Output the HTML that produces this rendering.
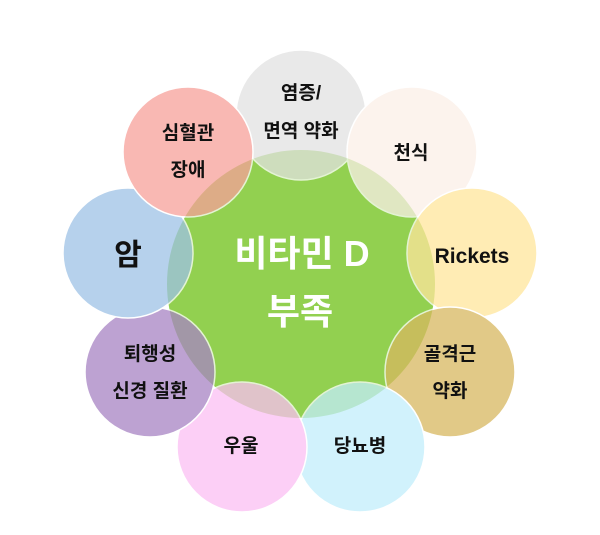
<!DOCTYPE html>
<html><head><meta charset="utf-8"><style>
body{margin:0;background:#fff;}
svg text{font-family:"Liberation Sans","Noto Sans CJK KR","NanumGothic",sans-serif;font-weight:bold;}
</style></head><body>
<svg width="600" height="530" xmlns="http://www.w3.org/2000/svg">
<rect width="600" height="530" fill="#fff"/>
<circle cx="301" cy="284" r="134" fill="#92d050"/>
<g stroke="#fff" stroke-width="1.5" opacity="0.75">
<circle cx="301" cy="115" r="65" fill="#e2e2e2"/>
<circle cx="412" cy="152" r="65" fill="#fbefe8"/>
<circle cx="472" cy="253" r="65" fill="#ffe69c"/>
<circle cx="450" cy="372" r="65" fill="#d8b860"/>
<circle cx="360" cy="447" r="65" fill="#c2eefb"/>
<circle cx="242" cy="447" r="65" fill="#fbbff3"/>
<circle cx="150" cy="372" r="65" fill="#a884c4"/>
<circle cx="128" cy="253" r="65" fill="#9ec2e6"/>
<circle cx="188" cy="152" r="65" fill="#f7a19a"/>
</g>
<g fill="#111" font-size="19" text-anchor="middle">
<text x="301" y="99">염증/</text>
<text x="301" y="137">면역 약화</text>
<text x="411" y="159">천식</text>
<text x="472" y="263" font-size="21">Rickets</text>
<text x="450" y="360">골격근</text>
<text x="450" y="397">약화</text>
<text x="360" y="452">당뇨병</text>
<text x="241" y="452">우울</text>
<text x="150" y="360">퇴행성</text>
<text x="150" y="397">신경 질환</text>
<text x="128" y="265" font-size="30">암</text>
<text x="188" y="139">심혈관</text>
<text x="188" y="176">장애</text>
</g>
<g fill="#fff" font-size="36" text-anchor="middle">
<text x="302" y="266">비타민 D</text>
<text x="300" y="324">부족</text>
</g>
</svg>
</body></html>
